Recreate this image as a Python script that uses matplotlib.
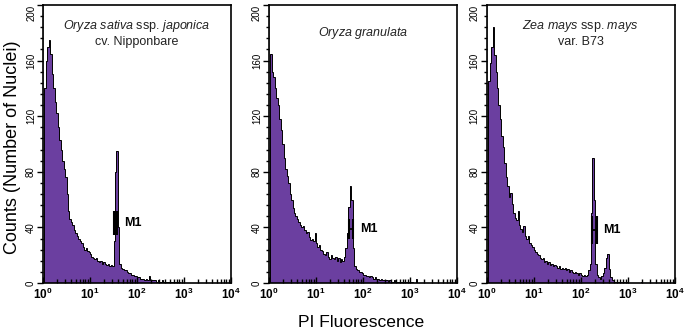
import matplotlib
matplotlib.use("Agg")
import matplotlib.pyplot as plt
import numpy as np
from matplotlib.ticker import FixedLocator, LogLocator, MultipleLocator, NullFormatter

# channel 0 is the off-scale (gated) channel drawn in grey
CH_PER_DECADE = 32

SATIVA = [230, 140, 160, 170, 175, 165, 150, 140, 130, 122, 112, 103, 96, 88, 82, 76,
          64, 52, 46, 44, 42, 38, 36, 34, 32, 30, 29, 26, 24, 25, 23, 22,
          21, 19, 18, 17, 18, 16, 15, 16, 14, 15, 14, 13, 14, 12, 13, 12,
          30, 80, 95, 40, 14, 11, 10, 9, 9, 8, 7, 7, 6, 6, 5, 5,
          4, 4, 3, 3, 3, 2, 3, 2, 5, 2, 2, 2, 2, 1, 2, 1,
          1, 2, 1, 1, 1, 1, 1, 1, 1, 0, 1, 0, 1]

GRANULATA = [230, 165, 152, 148, 140, 133, 128, 118, 110, 100, 90, 82, 77, 72, 64, 60,
             54, 50, 48, 46, 44, 42, 40, 41, 38, 36, 37, 33, 31, 32, 30, 36,
             29, 26, 27, 24, 23, 21, 20, 22, 19, 17, 20, 18, 17, 19, 16, 18,
             15, 17, 16, 19, 25, 36, 55, 70, 60, 25, 12, 10, 9, 8, 8, 7,
             6, 6, 5, 5, 4, 5, 4, 3, 4, 3, 3, 2, 3, 2, 2, 2,
             2, 1, 2, 1, 1, 2, 1, 1, 1, 1, 1, 1, 0, 1, 1, 0,
             0, 1, 0, 0, 3]

MAYS = [230, 145, 158, 170, 184, 164, 152, 140, 128, 118, 106, 98, 86, 76, 70, 62,
        65, 57, 50, 47, 45, 52, 42, 39, 37, 41, 34, 32, 34, 29, 27, 26,
        24, 22, 21, 20, 18, 17, 18, 15, 16, 14, 15, 13, 14, 12, 13, 12,
        11, 12, 10, 11, 10, 11, 9, 10, 8, 9, 8, 7, 8, 7, 6, 7,
        6, 5, 6, 5, 6, 9, 14, 50, 90, 60, 14, 6, 4, 3, 5, 7,
        11, 18, 21, 10, 4, 2, 2, 1, 1, 1, 1, 1, 0, 1, 0, 1,
        0, 0, 0, 0, 0, 0, 0, 0, 0, 1]

COUNTS = [SATIVA, GRANULATA, MAYS]
TITLES = [r"$\it{Oryza\ sativa}$ ssp. $\it{japonica}$" + "\ncv. Nipponbare",
          r"$\it{Oryza\ granulata}$",
          r"$\it{Zea\ mays}$ ssp. $\it{mays}$" + "\nvar. B73"]
M1_LO = [31.6, 50.5, 170]
M1_HI = [37.9, 61.4, 217]
M1_Y = [43, 39, 38]
M1_HALF = [8.5, 7, 10]

Y_TICKS = [0, 40, 80, 120, 160, 200]
X_TICKS = [1, 10, 100, 1000, 10000]
X_LABELS = [r"$\mathbf{10^{0}}$", r"$\mathbf{10^{1}}$", r"$\mathbf{10^{2}}$",
            r"$\mathbf{10^{3}}$", r"$\mathbf{10^{4}}$"]

PURPLE = "#6b3fa0"
GREY = "#a0a0a0"

plt.rcParams["font.family"] = "Liberation Sans"
plt.rcParams["mathtext.fontset"] = "custom"
plt.rcParams["mathtext.rm"] = "Liberation Sans"
plt.rcParams["mathtext.it"] = "Liberation Sans:italic"
plt.rcParams["mathtext.bf"] = "Liberation Sans:bold"

edges = np.logspace(0, 4, 4 * CH_PER_DECADE + 1)

fig = plt.figure(figsize=(6.85, 3.31), dpi=100)
lefts = [0.0628, 0.3927, 0.7105]

for k in range(3):
    ax = fig.add_axes([lefts[k], 0.145, 0.2745, 0.840])
    c = np.array(COUNTS[k], dtype=float)
    e = edges[:len(c) + 1]
    ax.stairs(c[1:], e[1:], fill=True, color=PURPLE, lw=0)
    ax.stairs(c[1:], e[1:], color="black", lw=0.7)
    ax.stairs(c[:1], e[:2], fill=True, color=GREY, lw=0)

    ax.set_xscale("log")
    ax.set_xlim(1, 10000)
    ax.set_ylim(0, 200)

    ax.xaxis.set_major_locator(FixedLocator(X_TICKS))
    ax.set_xticklabels(X_LABELS)
    ax.xaxis.set_minor_locator(LogLocator(base=10, subs=np.arange(2, 10)))
    ax.xaxis.set_minor_formatter(NullFormatter())
    ax.tick_params(axis="x", which="both", direction="in", width=1.0)
    ax.tick_params(axis="x", which="major", length=4, labelsize=8.5, pad=3)
    ax.tick_params(axis="x", which="minor", length=3)

    ax.set_yticks(Y_TICKS)
    ax.yaxis.set_minor_locator(MultipleLocator(8))
    ax.tick_params(axis="y", which="both", direction="out", width=1.0)
    ax.tick_params(axis="y", which="major", length=4, labelsize=7, pad=1)
    ax.tick_params(axis="y", which="minor", length=2.5)
    ylabs = ax.get_yticklabels()
    for lab in ylabs:
        lab.set_rotation(90)
        lab.set_va("center")
    ylabs[-1].set_va("top")

    for spine in ax.spines.values():
        spine.set_linewidth(1.2)
        spine.set_color("black")

    ax.text(0.5, 0.90, TITLES[k], transform=ax.transAxes, ha="center", va="center",
            fontsize=9, color="#222222", linespacing=1.25)

    # M1 marker bracket
    ax.hlines(M1_Y[k], M1_LO[k], M1_HI[k], color="black", lw=1.3)
    ax.vlines([M1_LO[k], M1_HI[k]], M1_Y[k] - M1_HALF[k], M1_Y[k] + M1_HALF[k],
              color="black", lw=1.5)
    ax.annotate("M1", (M1_HI[k], M1_Y[k]), xytext=(5, 0), textcoords="offset points",
                ha="left", va="center", fontsize=9, fontweight="bold")

fig.text(0.018, 0.556, "Counts (Number of Nuclei)", rotation=90, ha="center", va="center",
         fontsize=13)
fig.text(0.527, 0.025, "PI Fluorescence", ha="center", va="center", fontsize=12.6)

fig.savefig("out.png", dpi=100)
